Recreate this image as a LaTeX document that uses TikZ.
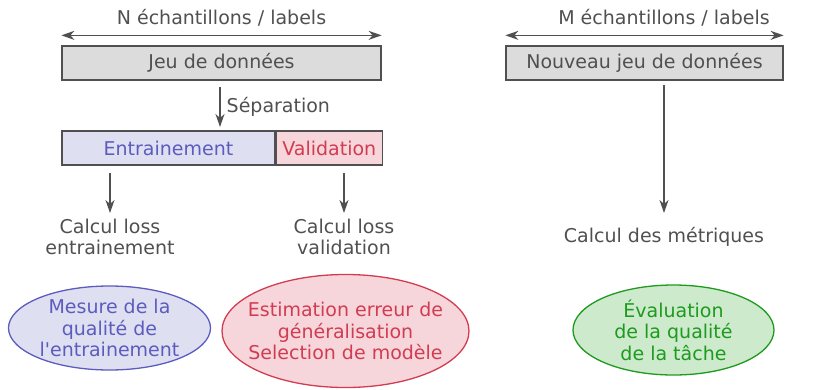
\documentclass[tikz,border=0pt]{standalone}
\usepackage{fontspec}
\setmainfont{DejaVu Sans}[Ligatures=TeXOff]
\usetikzlibrary{arrows.meta,shapes.geometric}
\definecolor{ink}{HTML}{505050}
\definecolor{boxgray}{HTML}{DCDCDC}
\definecolor{trainfill}{HTML}{DFDFF2}
\definecolor{trainink}{HTML}{5C5CBE}
\definecolor{valfill}{HTML}{F6D6DB}
\definecolor{valink}{HTML}{D23C52}
\definecolor{evalfill}{HTML}{CDEACD}
\definecolor{evalink}{HTML}{1E9A1E}
\tikzset{
  tip/.tip={Stealth[length=13pt,width=9pt,inset=4pt]},
  every node/.style={font=\fontsize{19}{21.5}\selectfont, text=ink},
  flow/.style={draw=ink, line width=1.4pt, -tip},
  span/.style={draw=ink, line width=1.4pt, tip-tip},
  databox/.style={draw=ink, line width=1.3pt, fill=boxgray, minimum height=34pt, inner sep=0pt},
  label/.style={align=center, inner sep=0pt},
  outcome/.style={ellipse, line width=1.3pt, inner sep=0pt}
}
\begin{document}
\begin{tikzpicture}[x=1pt,y=-1pt]
\useasboundingbox (0,0) rectangle (822,389);

% training / validation side
\node[databox, minimum width=319pt] (data) at (221.5,63) {Jeu de données};
\node[label] (ntitle) at (221.5,18) {N échantillons / labels};
\draw[span] ([yshift=10pt]data.north west) -- ([yshift=10pt]data.north east);

\node[databox, minimum width=213pt, fill=trainfill, text=trainink] (train) at (168.5,148) {Entrainement};
\node[databox, minimum width=106pt, fill=valfill, text=valink, anchor=west] (val) at (train.east) {Validation};

\coordinate (sepTop) at (220,87);
\coordinate (sepBot) at (220,127);
\draw[flow] (sepTop) -- (sepBot) node[midway, right=6pt, label] (septext) {Séparation};

\node[label] (losstrain) at (110,237) {Calcul loss\\entrainement};
\node[label] (lossval) at (344,237) {Calcul loss\\validation};
\coordinate (trainOut) at (110,173);
\coordinate (trainIn) at (110,213);
\coordinate (valOut) at (344,173);
\coordinate (valIn) at (344,213);
\draw[flow] (trainOut) -- (trainIn);
\draw[flow] (valOut) -- (valIn);

\node[outcome, draw=trainink, fill=trainfill, minimum width=202pt, minimum height=84pt] (qtrain) at (109.5,328) {};
\node[label, text=trainink] (qtraintext) at (qtrain) {Mesure de la\\qualité de\\l'entrainement};
\node[outcome, draw=valink, fill=valfill, minimum width=247pt, minimum height=113pt] (qval) at (345.5,331) {};
\node[label, text=valink] (qvaltext) at (qval) {Estimation erreur de\\généralisation\\Selection de modèle};

% evaluation side
\node[databox, minimum width=277pt] (newdata) at (644.5,63) {Nouveau jeu de données};
\node[label] (mtitle) at (664,18) {M échantillons / labels};
\draw[span] ([yshift=10pt]newdata.north west) -- ([yshift=10pt]newdata.north east);

\node[label] (metrics) at (664,237) {Calcul des métriques};
\coordinate (newOut) at (664,85);
\coordinate (metricsIn) at (664,213);
\draw[flow] (newOut) -- (metricsIn);

\node[outcome, draw=evalink, fill=evalfill, minimum width=201pt, minimum height=90pt] (qeval) at (673.5,330) {};
\node[label, text=evalink] (qevaltext) at (qeval) {Évaluation\\de la qualité\\de la tâche};
\end{tikzpicture}
\end{document}
